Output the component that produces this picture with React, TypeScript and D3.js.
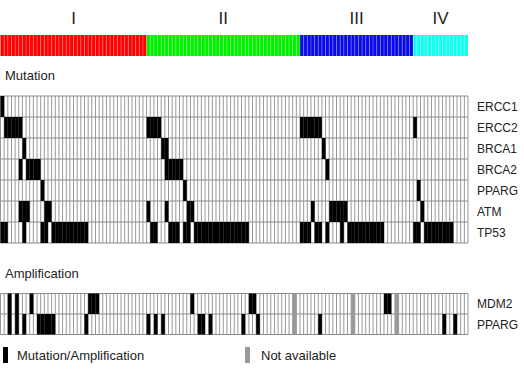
import * as d3 from 'd3';
import React from 'react';

// samples per subgroup (I, II, III, IV)
const groupNames = ['I', 'II', 'III', 'IV'];
const groupSizes = [40, 42, 31, 15];
const groupColors = ['#ff0000', '#00f000', '#0a0ae8', '#11ffee'];

const mutGenes = ['ERCC1', 'ERCC2', 'BRCA1', 'BRCA2', 'PPARG', 'ATM', 'TP53'];
// sample indices with a mutation
const ERCC1 = [0];
const ERCC2 = [1, 2, 3, 4, 5, 40, 41, 42, 43, 82, 83, 84, 85, 86, 87, 113];
const BRCA1 = [6, 44, 45, 88];
const BRCA2 = [5, 7, 8, 9, 10, 45, 46, 47, 48, 49, 89];
const PPARG = [11, 50, 114];
const ATM = [5, 6, 7, 12, 13, 40, 45, 51, 52, 85, 90, 91, 92, 93, 94, 115];
const TP53 = [0, 1, 6, 11, 12, 14, 15, 16, 17, 18, 19, 20, 21, 22, 23, 41, 42, 46, 47, 48, 50, 51,
  53, 54, 55, 56, 57, 58, 59, 60, 61, 62, 63, 64, 65, 66, 67, 82, 83, 84, 86, 87, 89, 93,
  95, 96, 97, 98, 99, 100, 101, 102, 103, 104, 113, 114, 116, 117, 118, 119, 120, 121, 122, 123];

const ampGenes = ['MDM2', 'PPARG'];
const MDM2_AMP = [2, 4, 8, 24, 25, 26, 52, 68, 69, 105, 106];
const PPARG_AMP = [2, 4, 6, 10, 11, 12, 13, 14, 23, 40, 42, 44, 54, 55, 57, 66, 70, 87, 121, 124];
const notAvailable = [80, 96, 108];

const mutData = [ERCC1, ERCC2, BRCA1, BRCA2, PPARG, ATM, TP53];
const ampData = [MDM2_AMP, PPARG_AMP];

const font = '"Liberation Sans", Arial, sans-serif';

export default function App() {
  const n = d3.sum(groupSizes);
  const x = d3.scaleBand<number>().domain(d3.range(n)).range([0.5, 468]);
  const w = x.bandwidth();

  const yMut = d3.scaleBand<string>().domain(mutGenes).range([96, 243]);
  const yAmp = d3.scaleBand<string>().domain(ampGenes).range([293.5, 334.5]);

  const starts = groupSizes.map((s, i) => d3.sum(groupSizes.slice(0, i)));
  const sampleGroup = d3.range(n).map(i => d3.bisectRight(starts, i) - 1);

  const grid = (y: d3.ScaleBand<string>, genes: string[]) => {
    const [y0, y1] = y.range();
    return (
      <g>
        <rect x={x(0)} y={y0} width={x(n - 1)! + w - x(0)!} height={y1 - y0} fill="#fff" />
        {d3.range(n + 1).map(i => (
          <line key={'v' + i} x1={x(0)! + i * w} x2={x(0)! + i * w} y1={y0} y2={y1}
            stroke="#8c8c8c" strokeWidth={0.9} />
        ))}
        {d3.range(genes.length + 1).map(j => (
          <line key={'h' + j} x1={x(0)} x2={x(0)! + n * w} y1={y0 + j * y.bandwidth()} y2={y0 + j * y.bandwidth()}
            stroke="#8c8c8c" strokeWidth={1} />
        ))}
      </g>
    );
  };

  return (
    <svg width={524} height={369} style={{ position: 'absolute', left: 0, top: 0, background: '#fff' }}
      fontFamily={font}>
      {/* group labels */}
      {groupNames.map((g, i) => (
        <text key={g} x={x(starts[i])! + (groupSizes[i] * w) / 2} y={24} textAnchor="middle"
          fontSize={17} fill="#222">{g}</text>
      ))}
      {/* group colour bar */}
      {d3.range(n).map(i => (
        <rect key={'c' + i} x={x(i)} y={35} width={w} height={21} fill={groupColors[sampleGroup[i]]} />
      ))}
      {d3.range(1, n).map(i => (
        <line key={'cl' + i} x1={x(i)} x2={x(i)} y1={35} y2={56} stroke="#fff" strokeOpacity={0.35} strokeWidth={0.8} />
      ))}

      <text x={5} y={80} fontSize={13} fill="#222">Mutation</text>
      {grid(yMut, mutGenes)}
      {mutData.map((arr, j) => arr.map(i => (
        <rect key={j + '-' + i} x={x(i)} y={yMut(mutGenes[j])} width={w} height={yMut.bandwidth()} fill="#000" />
      )))}
      {mutGenes.map(g => (
        <text key={g} x={477} y={yMut(g)! + yMut.bandwidth() / 2 + 4.5} fontSize={12} fill="#222">{g}</text>
      ))}

      <text x={5} y={278} fontSize={13} fill="#222">Amplification</text>
      {grid(yAmp, ampGenes)}
      {notAvailable.map(i => (
        <rect key={'na' + i} x={x(i)} y={yAmp.range()[0]} width={w} height={yAmp.range()[1] - yAmp.range()[0]} fill="#999" />
      ))}
      {ampData.map((arr, j) => arr.map(i => (
        <rect key={'a' + j + '-' + i} x={x(i)} y={yAmp(ampGenes[j])} width={w} height={yAmp.bandwidth()} fill="#000" />
      )))}
      {ampGenes.map((g, k) => (
        <text key={'al' + k} x={477} y={yAmp(g)! + yAmp.bandwidth() / 2 + 4.5} fontSize={12} fill="#222">{g}</text>
      ))}

      {/* legend */}
      <rect x={3} y={347} width={5} height={16} fill="#000" />
      <text x={17} y={360} fontSize={13} fill="#222">Mutation/Amplification</text>
      <rect x={245} y={347} width={5} height={16} fill="#999" />
      <text x={261} y={360} fontSize={13} fill="#222">Not available</text>
    </svg>
  );
}
